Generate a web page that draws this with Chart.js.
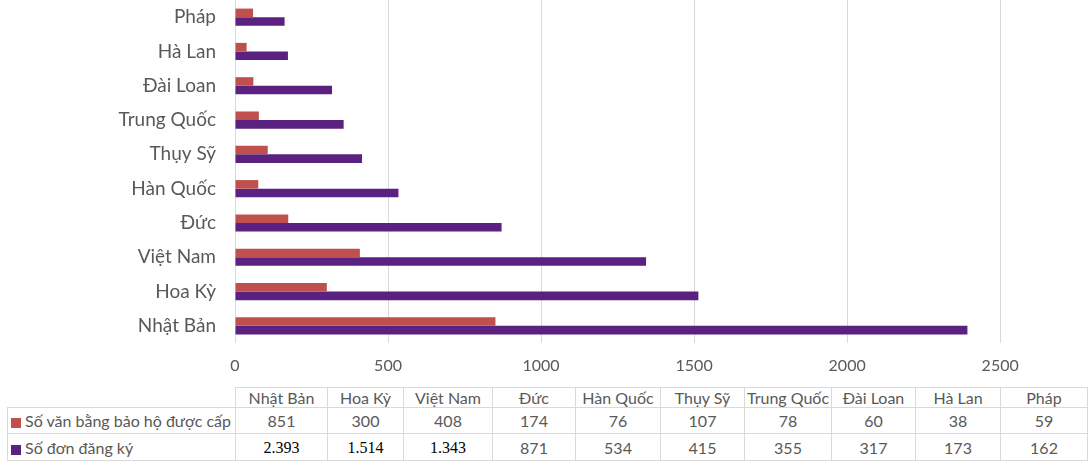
<!DOCTYPE html>
<html>
<head>
<meta charset="utf-8">
<script src="https://cdn.jsdelivr.net/npm/chart.js@4/dist/chart.umd.min.js"></script>
<style>
  html, body { margin: 0; padding: 0; background: #fff; overflow: hidden; }
  #wrap { position: absolute; left: 0; top: 0; width: 1092px; height: 380px; }
  #bang { position: absolute; left: 7px; top: 387px; border-collapse: collapse; table-layout: fixed;
          font-family: Lato, "Open Sans", sans-serif; font-size: 16px; color: #595959; }
  #bang td { border: 1px solid #d9d9d9; text-align: center; padding: 0; white-space: nowrap; overflow: hidden; }
  #bang tr.dau td { height: 19px; line-height: 19px; }
  #bang tr.so td { height: 25px; line-height: 25px; }
  #bang td.ten { text-align: left; padding-left: 3px; }
  #bang td.trong { border-top: none; border-left: none; }
  .o { display: inline-block; width: 10px; height: 10px; margin-right: 4px; vertical-align: -1px; }
  .serif { font-family: "Liberation Serif", serif; color: #000; }
</style>
</head>
<body>
<div id="wrap"><canvas id="bieudo"></canvas></div>
<table id="bang"></table>
<script>
const quocGia = ['Nhật Bản', 'Hoa Kỳ', 'Việt Nam', 'Đức', 'Hàn Quốc', 'Thụy Sỹ', 'Trung Quốc', 'Đài Loan', 'Hà Lan', 'Pháp'];
const vanBang = [851, 300, 408, 174, 76, 107, 78, 60, 38, 59];
const donDangKy = [2393, 1514, 1343, 871, 534, 415, 355, 317, 173, 162];
const mocTrucX = [0, 500, 1000, 1500, 2000, 2500];
const tenVanBang = 'Số văn bằng bảo hộ được cấp';
const tenDon = 'Số đơn đăng ký';
const mauDo = '#c0504d';
const mauTim = '#5b2181';

// bang du lieu ben duoi (kieu Excel)
const cotRong = [228, 92, 76, 89, 83, 85, 84, 87, 84, 85, 87];
const bang = document.getElementById('bang');
let colgroup = '<colgroup>' + cotRong.map(w => `<col style="width:${w}px">`).join('') + '</colgroup>';
let hang1 = '<tr class="dau"><td class="trong"></td>' + quocGia.map(q => `<td>${q}</td>`).join('') + '</tr>';
function dinhDang(v) {
    if (v >= 1000) return `<span class="serif">${Math.floor(v / 1000)}.${String(v % 1000).padStart(3, '0')}</span>`;
    return v;
}
let hang2 = `<tr class="so"><td class="ten"><span class="o" style="background:${mauDo}"></span>${tenVanBang}</td>` +
    vanBang.map(v => `<td>${v}</td>`).join('') + '</tr>';
let hang3 = `<tr class="so"><td class="ten"><span class="o" style="background:${mauTim}"></span>${tenDon}</td>` +
    donDangKy.map(v => `<td>${dinhDang(v)}</td>`).join('') + '</tr>';
bang.innerHTML = colgroup + hang1 + hang2 + hang3;

const ctx = document.getElementById('bieudo').getContext('2d');
new Chart(ctx, {
    type: 'bar',
    data: {
        labels: quocGia,
        datasets: [{
            label: tenVanBang,
            data: vanBang,
            backgroundColor: mauDo
        }, {
            label: tenDon,
            data: donDangKy,
            backgroundColor: mauTim
        }]
    },
    options: {
        indexAxis: 'y',
        responsive: true,
        maintainAspectRatio: false,
        animation: false,
        layout: { padding: 0 },
        categoryPercentage: 0.5,
        barPercentage: 1,
        plugins: {
            legend: { display: false },
            tooltip: { enabled: false }
        },
        scales: {
            x: {
                min: 0,
                max: 2800,
                border: { display: false },
                grid: { color: '#d9d9d9', drawTicks: false },
                ticks: {
                    padding: 13,
                    autoSkip: false,
                    maxRotation: 0,
                    color: '#595959',
                    font: { family: 'Lato, "Open Sans", sans-serif', size: 16 },
                    callback: v => String(v)
                },
                afterBuildTicks: function (scale) {
                    scale.ticks = mocTrucX.map(v => ({ value: v }));
                },
                afterFit: function (scale) {
                    scale.height = 37;
                    scale.paddingLeft = 0;
                    scale.paddingRight = 0;
                }
            },
            y: {
                reverse: true,
                border: { display: false },
                grid: { display: false, drawTicks: false },
                ticks: {
                    padding: 19,
                    color: '#595959',
                    font: { family: 'Lato, "Open Sans", sans-serif', size: 19 }
                },
                afterFit: function (scale) {
                    scale.width = 235;
                    scale.paddingTop = 0;
                    scale.paddingBottom = 0;
                }
            }
        }
    }
});
</script>
</body>
</html>
